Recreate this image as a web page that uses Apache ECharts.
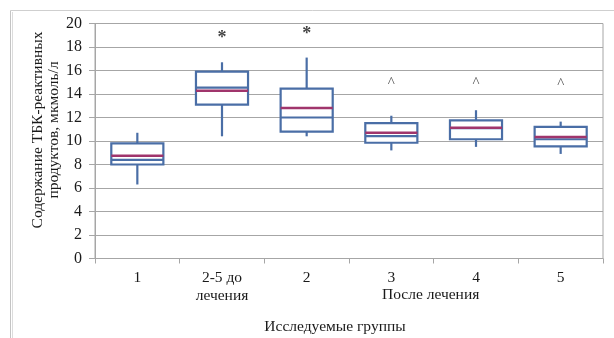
<!DOCTYPE html>
<html>
<head>
<meta charset="utf-8">
<script src="https://cdn.jsdelivr.net/npm/echarts@6/dist/echarts.min.js"></script>
<style>html,body{margin:0;padding:0;background:#fff;}#c{width:614px;height:338px;}</style>
</head>
<body>
<div id="c"></div>
<script>
const categories = ['1', '2-5 до\nлечения', '2', '3', '4', '5'];
const minVals    = [6.3, 10.4, 10.4, 9.2, 9.5, 8.9];
const q1Vals     = [8.0, 13.1, 10.8, 9.85, 10.15, 9.55];
const medianVals = [8.4, 14.55, 12.0, 10.42, 11.1, 10.15];
const q3Vals     = [9.8, 15.9, 14.45, 11.52, 11.75, 11.2];
const maxVals    = [10.7, 16.7, 17.1, 12.15, 12.62, 11.65];
const meanVals   = [8.75, 14.27, 12.8, 10.7, 11.13, 10.33];
const markerText = ['', '*', '*', '^', '^', '^'];
const markerVals = [null, 18.8, 19.15, 15.1, 15.1, 15.0];
const yTicks = [0, 2, 4, 6, 8, 10, 12, 14, 16, 18, 20];

const BLUE = '#4a6ea6';
const PURPLE = '#a0356c';
const GRID = '#a6a6a6';
const TXT = '#1a1a1a';
const FONT = '"Liberation Serif", "DejaVu Serif", serif';

const boxData = categories.map((c, i) => [i, minVals[i], q1Vals[i], medianVals[i], q3Vals[i], maxVals[i], meanVals[i]]);
const markData = [];
markerVals.forEach((v, i) => { if (v != null) markData.push([i, v]); });

function renderItem(params, api) {
  const i = api.value(0);
  const x = api.coord([i, 0])[0];
  const y = k => api.coord([i, api.value(k)])[1];
  const yMin = y(1), yQ1 = y(2), yMed = y(3), yQ3 = y(4), yMax = y(5), yMean = y(6);
  const bw = api.size([1, 0])[0] * 0.615;
  const ls = { stroke: BLUE, lineWidth: 2.2 };
  return {
    type: 'group',
    children: [
      { type: 'line', shape: { x1: x, y1: yQ1, x2: x, y2: yMin }, style: ls },
      { type: 'line', shape: { x1: x, y1: yQ3, x2: x, y2: yMax }, style: ls },
      { type: 'rect', shape: { x: x - bw / 2, y: yQ3, width: bw, height: yQ1 - yQ3 }, style: { fill: '#fff', stroke: BLUE, lineWidth: 2.2 } },
      { type: 'line', shape: { x1: x - bw / 2, y1: yMed, x2: x + bw / 2, y2: yMed }, style: ls },
      { type: 'line', shape: { x1: x - bw / 2, y1: yMean, x2: x + bw / 2, y2: yMean }, style: { stroke: PURPLE, lineWidth: 2.5 } }
    ]
  };
}

const chart = echarts.init(document.getElementById('c'), null, { renderer: 'canvas' });
const option = {
  animation: false,
  backgroundColor: '#fff',
  grid: { left: 95, right: 11, top: 23.5, bottom: 79.5, show: true, borderColor: GRID, borderWidth: 1, backgroundColor: 'transparent' },
  xAxis: {
    type: 'category',
    data: categories,
    boundaryGap: true,
    axisLine: { show: true, lineStyle: { color: GRID, width: 1 } },
    axisTick: { show: true, length: 5, lineStyle: { color: GRID } },
    axisLabel: { color: TXT, fontFamily: FONT, fontSize: 15.5, lineHeight: 18, margin: 10 },
    splitLine: { show: false }
  },
  yAxis: {
    type: 'value',
    min: yTicks[0], max: yTicks[yTicks.length - 1], interval: 2,
    axisLine: { show: true, lineStyle: { color: GRID, width: 1 } },
    axisTick: { show: true, length: 6, lineStyle: { color: GRID } },
    axisLabel: { color: TXT, fontFamily: FONT, fontSize: 16, margin: 13 },
    splitLine: { show: true, lineStyle: { color: GRID, width: 1 } }
  },
  series: [
    {
      type: 'custom',
      renderItem: renderItem,
      data: boxData,
      encode: { x: 0, y: [1, 2, 3, 4, 5, 6] },
      z: 3
    },
    {
      type: 'scatter',
      data: markData,
      symbol: 'circle',
      symbolSize: 1,
      itemStyle: { color: 'rgba(0,0,0,0)' },
      z: 4,
      label: {
        show: true,
        position: 'inside',
        formatter: p => markerText[p.data[0]] === '*' ? '{s|*}' : '{c|' + markerText[p.data[0]] + '}',
        rich: {
          s: { fontFamily: FONT, fontSize: 18, fontWeight: 'bold', color: '#111', padding: [1, 0, 0, 0] },
          c: { fontFamily: FONT, fontSize: 15, color: TXT, padding: [4, 0, 0, 0] }
        }
      }
    }
  ],
  graphic: [
    { type: 'line', shape: { x1: 10.5, y1: 10.5, x2: 614, y2: 10.5 }, style: { stroke: '#cfcfcf', lineWidth: 1 }, silent: true },
    { type: 'line', shape: { x1: 10.5, y1: 10.5, x2: 10.5, y2: 338 }, style: { stroke: '#c4c4c4', lineWidth: 1 }, silent: true },
    { type: 'line', shape: { x1: 12.5, y1: 12, x2: 12.5, y2: 338 }, style: { stroke: '#dcdcdc', lineWidth: 1 }, silent: true },
    {
      type: 'text', x: 46, y: 130, rotation: Math.PI / 2,
      style: { text: 'Содержание ТБК-реактивных\nпродуктов, мкмоль/л', fontFamily: FONT, fontSize: 15.5, lineHeight: 16, fill: TXT, textAlign: 'center', textVerticalAlign: 'middle' }
    }
  ]
};
chart.setOption(option);

const p34 = chart.convertToPixel({ gridIndex: 0 }, [3, 0]);
const p43 = chart.convertToPixel({ gridIndex: 0 }, [4, 0]);
const midX = (p34[0] + p43[0]) / 2;
chart.setOption({
  graphic: [
    {}, {}, {}, {},
    { type: 'text', x: midX - 3, y: 295, style: { text: 'После лечения', fontFamily: FONT, fontSize: 15.5, fill: TXT, textAlign: 'center', textVerticalAlign: 'middle' } },
    { type: 'text', x: 335, y: 327, style: { text: 'Исследуемые группы', fontFamily: FONT, fontSize: 15.5, fill: TXT, textAlign: 'center', textVerticalAlign: 'middle' } }
  ]
});
</script>
</body>
</html>
